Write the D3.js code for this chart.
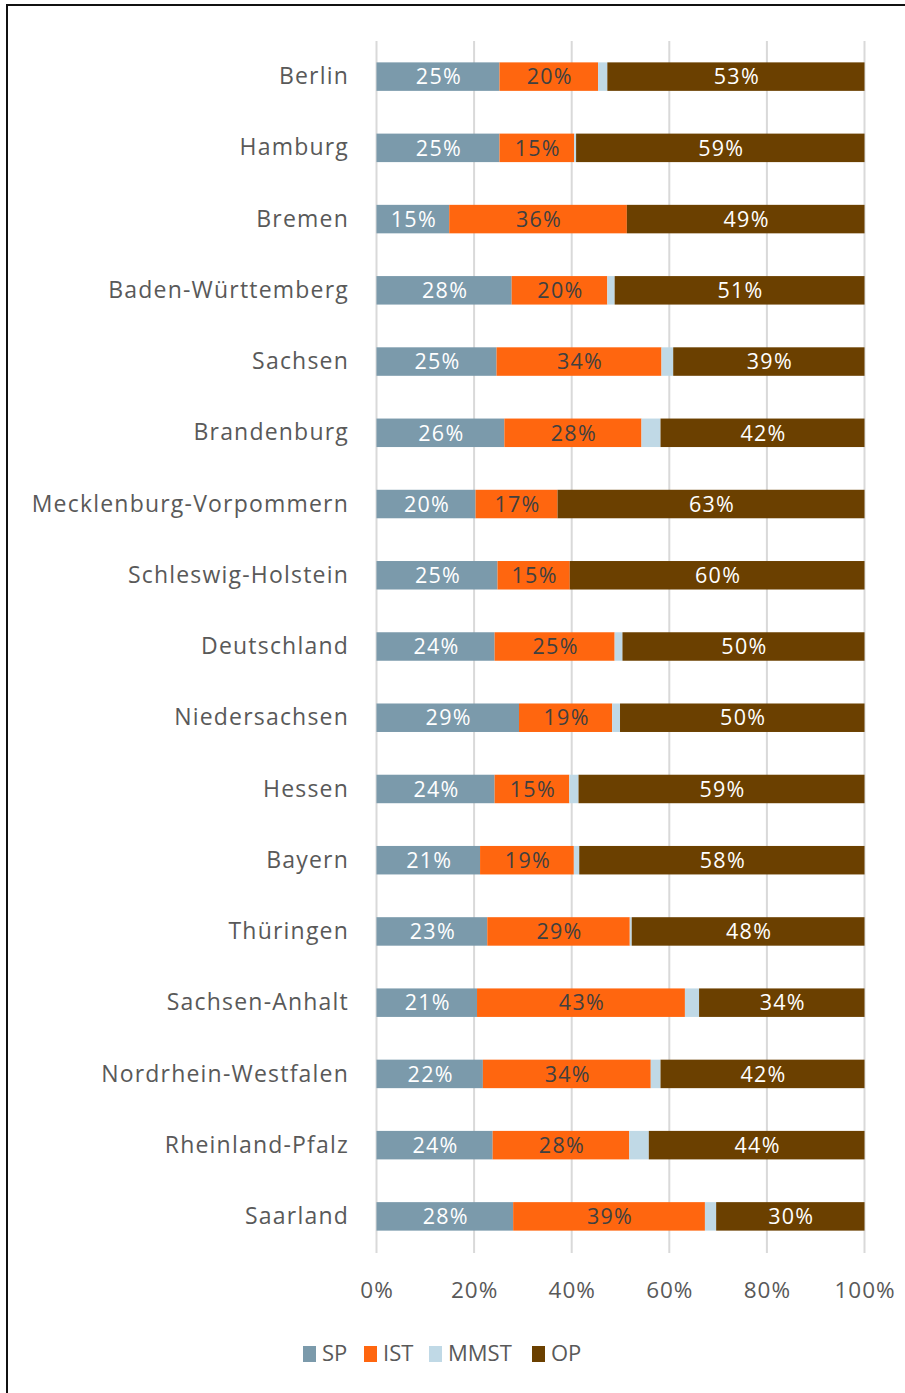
<!DOCTYPE html>
<html>
<head>
<meta charset="utf-8">
<script src="https://cdn.jsdelivr.net/npm/d3@7"></script>
<style>
  html, body { margin: 0; padding: 0; background: #fff; }
  svg { display: block; }
  text { font-family: "Open Sans", "Noto Sans", sans-serif; }
</style>
</head>
<body>
<svg id="chart" width="905" height="1393"></svg>
<script>
// ---- data ----
const categories = ["Berlin","Hamburg","Bremen","Baden-Württemberg","Sachsen","Brandenburg",
  "Mecklenburg-Vorpommern","Schleswig-Holstein","Deutschland","Niedersachsen","Hessen","Bayern",
  "Thüringen","Sachsen-Anhalt","Nordrhein-Westfalen","Rheinland-Pfalz","Saarland"];
const seriesNames = ["SP","IST","MMST","OP"];
const spValues   = [25.2,25.2,14.9,27.7,24.6,26.2,20.3,24.8,24.2,29.2,24.2,21.2,22.7,20.6,21.8,23.8,28.0];
const istValues  = [20.2,15.3,36.4,19.6,33.8,28.1,16.8,14.8,24.6,19.1,15.3,19.2,29.2,42.6,34.4,28.0,39.3];
const mmstValues = [ 1.9, 0.4, 0.0, 1.5, 2.4, 3.9, 0.0, 0.0, 1.6, 1.6, 1.9, 1.1, 0.4, 2.9, 2.0, 4.0, 2.3];
const opValues   = [52.7,59.1,48.7,51.2,39.2,41.8,62.9,60.4,49.6,50.1,58.6,58.4,47.7,33.9,41.8,44.2,30.4];
const tickValues = [0, 0.2, 0.4, 0.6, 0.8, 1.0];
const seriesColors = ["#7b9aab", "#ff660f", "#c0d9e6", "#6b4000"];
const labelColors  = ["#ffffff", "#404040", null, "#ffffff"];

// ---- build table ----
const rows = categories.map((c, i) => {
  const vals = [spValues[i], istValues[i], mmstValues[i], opValues[i]];
  const total = d3.sum(vals);
  const r = { cat: c };
  seriesNames.forEach((s, k) => r[s] = vals[k] / total);
  r.raw = vals;
  return r;
});
const stacked = d3.stack().keys(seriesNames)(rows);

// ---- layout ----
const svg = d3.select("#chart");
const x = d3.scaleLinear().domain([0, 1]).range([376.5, 864.5]);
const y = d3.scaleBand().domain(categories).range([41, 1252]).paddingInner(0.6).paddingOuter(0.3);

// frame
svg.append("rect").attr("x", 7).attr("y", 5).attr("width", 1000).attr("height", 1500)
  .attr("fill", "none").attr("stroke", "#111").attr("stroke-width", 2);

// gridlines
svg.append("g").selectAll("line").data(tickValues).join("line")
  .attr("x1", d => x(d)).attr("x2", d => x(d))
  .attr("y1", 41).attr("y2", 1253)
  .attr("stroke", "#d9d9d9").attr("stroke-width", 2);

// bars
const layers = svg.append("g").selectAll("g").data(stacked).join("g")
  .attr("fill", (d, i) => seriesColors[i]);
layers.selectAll("rect").data(d => d.map(v => ({ v, cat: v.data.cat }))).join("rect")
  .attr("x", d => x(d.v[0]))
  .attr("width", d => Math.max(0, x(d.v[1]) - x(d.v[0])))
  .attr("y", d => y(d.cat))
  .attr("height", y.bandwidth());

// bar labels
const fmt = d3.format(".0%");
stacked.forEach((layer, i) => {
  if (!labelColors[i]) return;
  svg.append("g").selectAll("text").data(layer).join("text")
    .attr("x", d => (x(d[0]) + x(d[1])) / 2 + 1)
    .attr("y", d => y(d.data.cat) + y.bandwidth() / 2 + 2)
    .attr("text-anchor", "middle")
    .attr("dominant-baseline", "middle")
    .attr("fill", labelColors[i])
    .attr("font-size", 21.5)
    .attr("letter-spacing", 1.3)
    .text(d => fmt(d.data.raw[i] / 100));
});

// category axis
const yAxis = svg.append("g").attr("transform", `translate(${376},0)`)
  .call(d3.axisLeft(y).tickSize(0).tickPadding(27));
yAxis.select(".domain").remove();
yAxis.selectAll("text").attr("font-size", 23).attr("fill", "#595959")
  .attr("letter-spacing", 1.2)
  .attr("dy", "0.33em")
  .style("font-family", "'Open Sans', sans-serif");

// x axis
const xAxis = svg.append("g").attr("transform", `translate(0,1253)`)
  .call(d3.axisBottom(x).tickValues(tickValues).tickFormat(d3.format(".0%")).tickSize(0).tickPadding(29));
xAxis.select(".domain").remove();
xAxis.selectAll("text").attr("font-size", 22.5).attr("fill", "#595959")
  .attr("letter-spacing", 1)
  .style("font-family", "'Open Sans', sans-serif");

// legend
const legendX = [303, 364, 429, 532];
const lg = svg.append("g").selectAll("g").data(seriesNames).join("g")
  .attr("transform", (d, i) => `translate(${legendX[i]},1346)`);
lg.append("rect").attr("width", 13).attr("height", 16).attr("fill", (d, i) => seriesColors[i]);
lg.append("text").attr("x", 19).attr("y", 9).attr("dominant-baseline", "middle")
  .attr("font-size", 22).attr("fill", "#595959").text(d => d);
</script>
</body>
</html>
